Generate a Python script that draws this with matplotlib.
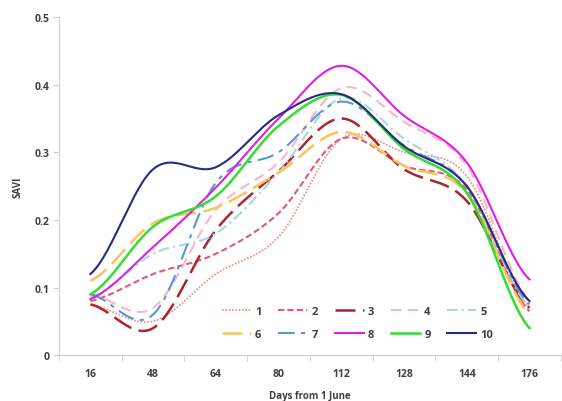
import numpy as np
import matplotlib
matplotlib.use('Agg')
import matplotlib.pyplot as plt

days = ['16', '48', '64', '80', '112', '128', '144', '176']

s1 = [0.075, 0.050, 0.120, 0.175, 0.320, 0.300, 0.265, 0.070]
s2 = [0.080, 0.120, 0.150, 0.210, 0.320, 0.280, 0.245, 0.065]
s3 = [0.075, 0.040, 0.185, 0.272, 0.350, 0.275, 0.228, 0.070]
s4 = [0.090, 0.070, 0.215, 0.285, 0.395, 0.345, 0.280, 0.080]
s5 = [0.085, 0.150, 0.180, 0.270, 0.380, 0.320, 0.250, 0.070]
s6 = [0.110, 0.195, 0.218, 0.270, 0.330, 0.280, 0.240, 0.060]
s7 = [0.090, 0.060, 0.255, 0.300, 0.375, 0.310, 0.250, 0.075]
s8 = [0.083, 0.160, 0.248, 0.350, 0.428, 0.354, 0.285, 0.112]
s9 = [0.090, 0.190, 0.235, 0.339, 0.385, 0.305, 0.240, 0.040]
s10 = [0.120, 0.275, 0.278, 0.355, 0.386, 0.309, 0.250, 0.080]

series = [s1, s2, s3, s4, s5, s6, s7, s8, s9, s10]
names = ['1', '2', '3', '4', '5', '6', '7', '8', '9', '10']
colors = ['#F08A7E', '#E2587A', '#A8282E', '#F4B8C8', '#A6D6E6',
          '#F8C45E', '#5A96D2', '#E020E0', '#33DD33', '#2A2A80']
styles = [(0, (1, 1)), (0, (3, 1.5)), (0, (8, 3)), (0, (5, 3)), (0, (5, 2, 1, 2)),
          (0, (8, 3)), (0, (8, 3, 2, 3)), '-', '-', '-']
widths = [1.2, 1.5, 1.8, 1.5, 1.5, 1.8, 1.5, 1.5, 1.8, 1.5]


def smooth(vals, n=30):
    # catmull-rom like Excel smoothed lines
    y = np.array(vals, dtype=float)
    x = np.arange(len(y), dtype=float)
    xs, ys = [], []
    for i in range(len(y) - 1):
        p0 = y[i - 1] if i > 0 else y[i]
        p1, p2 = y[i], y[i + 1]
        p3 = y[i + 2] if i + 2 < len(y) else y[i + 1]
        t = np.linspace(0, 1, n, endpoint=False)
        yy = 0.5 * ((2 * p1) + (-p0 + p2) * t + (2 * p0 - 5 * p1 + 4 * p2 - p3) * t ** 2
                    + (-p0 + 3 * p1 - 3 * p2 + p3) * t ** 3)
        xs.append(x[i] + t)
        ys.append(yy)
    xs.append([x[-1]])
    ys.append([y[-1]])
    return np.concatenate(xs), np.concatenate(ys)


plt.rcParams['font.family'] = ['Open Sans', 'DejaVu Sans']
fig = plt.figure(figsize=(5.62, 4.02), dpi=100)
ax = fig.add_axes([0.105, 0.114, 0.893, 0.841])

lines = []
for vals, nm, c, ls, lw in zip(series, names, colors, styles, widths):
    xs, ys = smooth(vals)
    ln, = ax.plot(xs, ys, color=c, linestyle=ls, linewidth=lw, label=nm)
    lines.append(ln)

ax.set_xlim(-0.5, len(days) - 0.5)
ax.set_ylim(0, 0.5)
ax.set_xticks(range(len(days)))
ax.set_xticklabels(days)
ax.set_xticks(np.arange(-0.5, len(days), 1), minor=True)
ax.tick_params(axis='x', which='major', length=0, pad=9)
ax.tick_params(axis='x', which='minor', length=4, color='#D0D0D0')
ax.set_yticks([0, 0.1, 0.2, 0.3, 0.4, 0.5])
ax.set_yticklabels(['0', '0.1', '0.2', '0.3', '0.4', '0.5'])
ax.tick_params(axis='y', length=4, color='#D0D0D0', pad=3)
for lab in ax.get_xticklabels() + ax.get_yticklabels():
    lab.set_fontsize(7.5)
    lab.set_fontweight('bold')
    lab.set_color('#404040')
for sp in ['top', 'right']:
    ax.spines[sp].set_visible(False)
for sp in ['left', 'bottom']:
    ax.spines[sp].set_color('#D0D0D0')

ax.set_ylabel('SAVI', fontsize=7, fontweight='bold', color='#404040', labelpad=8)
ax.set_xlabel('Days from 1 June', fontsize=7, fontweight='bold', color='#404040', labelpad=8)

# legend filled row by row: 1-5 on top, 6-10 below
order = [0, 5, 1, 6, 2, 7, 3, 8, 4, 9]
leg = ax.legend([lines[i] for i in order], [names[i] for i in order],
                ncol=5, loc='lower center', bbox_to_anchor=(0.595, 0.015), frameon=False,
                handlelength=2.6, columnspacing=1.5, handletextpad=0.4, fontsize=8,
                labelspacing=1.1)
for t in leg.get_texts():
    t.set_fontweight('bold')
    t.set_color('#404040')

plt.savefig('out.png', dpi=100)
